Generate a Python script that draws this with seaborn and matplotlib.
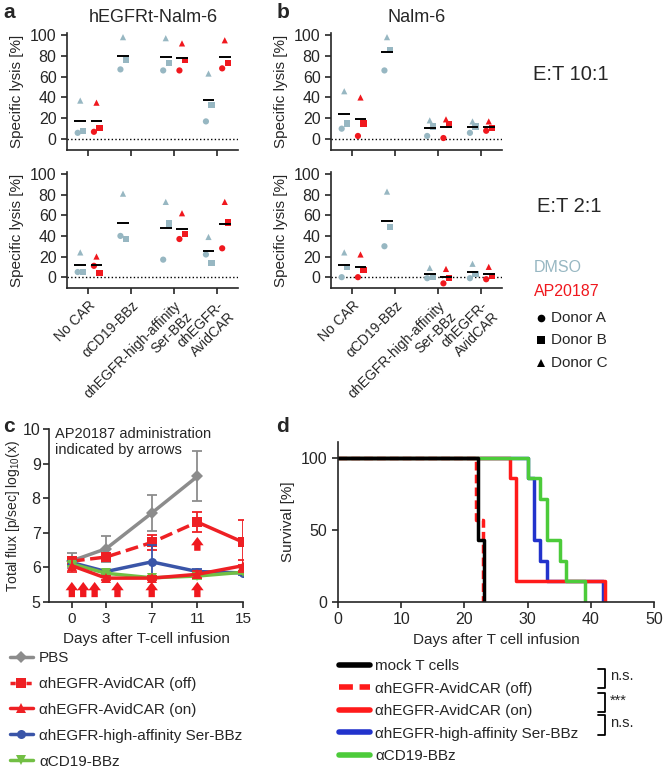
import numpy as np
import pandas as pd
import matplotlib
matplotlib.use("Agg")
import matplotlib.pyplot as plt
import seaborn as sns
from matplotlib.lines import Line2D

sns.set_style("ticks")
plt.rcParams["font.family"] = ["Liberation Sans", "DejaVu Sans"]
plt.rcParams["axes.linewidth"] = 1.2
plt.rcParams["xtick.major.width"] = 1.2
plt.rcParams["ytick.major.width"] = 1.2
plt.rcParams["xtick.major.size"] = 4
plt.rcParams["ytick.major.size"] = 4

nan = np.nan

# --- panels a/b: specific lysis, per category [Donor A, Donor B, Donor C]
cats = ["No CAR", "αCD19-BBz", "αhEGFR-high-affinity\nSer-BBz", "αhEGFR-\nAvidCAR"]
donors = ["Donor A", "Donor B", "Donor C"]
a10_dmso = [[6, 8, 37], [67, 76, 98], [66, 73, 97], [17, 33, 63]]
a10_ap = [[7, 11, 35], [nan, nan, nan], [66, 76, 92], [68, 73, 95]]
a2_dmso = [[5, 5, 24], [40, 37, 81], [17, 52, 73], [22, 14, 39]]
a2_ap = [[11, 4, 20], [nan, nan, nan], [37, 42, 62], [28, 53, 73]]
b10_dmso = [[10, 15, 46], [66, 86, 98], [3, 12, 18], [6, 12, 17]]
b10_ap = [[3, 15, 40], [nan, nan, nan], [1, 14, 19], [8, 11, 17]]
b2_dmso = [[0, 10, 24], [30, 49, 83], [-1, 0, 9], [-1, 3, 13]]
b2_ap = [[0, 7, 22], [nan, nan, nan], [-6, -1, 8], [-2, 1, 10]]

# --- panel c: bioluminescence (log10 total flux)
days = [0, 3, 7, 11, 15]
pbs = [6.19, 6.54, 7.57, 8.63]
pbs_err = [0.22, 0.37, 0.52, 0.72]
avid_off = [6.18, 6.30, 6.72, 7.31, 6.73]
avid_off_err = [0.12, 0.10, 0.22, 0.29, 0.65]
avid_on = [6.05, 5.69, 5.69, 5.80, 6.05]
avid_on_err = [0.18, 0.05, 0.05, 0.10, 0.17]
hiaff = [6.14, 5.88, 6.16, 5.88, 5.84]
hiaff_err = [0.06, 0.05, 0.50, 0.06, 0.05]
cd19 = [6.10, 5.83, 5.70, 5.75, 5.86]
cd19_err = [0.06, 0.05, 0.04, 0.08, 0.04]
arrow_days = [0, 1, 2, 4, 7, 11]

# --- panel d: survival (Kaplan-Meier steps)
mock_t = [0, 22.2, 23.1]
mock_s = [100, 42.9, 0]
off_t = [0, 21.9, 22.9]
off_s = [100, 57.1, 0]
on_t = [0, 27.2, 28.2, 42.2]
on_s = [100, 85.7, 14.3, 0]
hi_t = [0, 30.1, 31.0, 32.0, 33.0, 42.0]
hi_s = [100, 85.7, 42.9, 28.6, 14.3, 0]
cd_t = [0, 30.1, 32.0, 33.1, 35.1, 36.1, 39.1]
cd_s = [100, 85.7, 71.4, 42.9, 28.6, 14.3, 0]

DMSO_C = "#97B7C2"
AP_C = "#F0181E"
W, H = 663, 775
fig = plt.figure(figsize=(W / 100, H / 100), dpi=100)


def add_ax(x0, y0, x1, y1):
    return fig.add_axes([x0 / W, 1 - y1 / H, (x1 - x0) / W, (y1 - y0) / H])


def lysis_panel(ax, dmso, ap, labels):
    rows = []
    for treat, vals, off in (("DMSO", dmso, -0.19), ("AP20187", ap, 0.19)):
        for ci, trip in enumerate(vals):
            for di, v in enumerate(trip):
                if np.isnan(v):
                    continue
                shift = [-0.06, 0.07, 0.0][di]
                rows.append(dict(x=ci + off + shift, y=v, treatment=treat, donor=donors[di]))
            if not np.all(np.isnan(trip)):
                m = np.nanmean(trip)
                ax.hlines(m, ci + off - 0.14, ci + off + 0.14, color="black", lw=1.4, zorder=3)
    df = pd.DataFrame(rows)
    ax.axhline(0, color="black", ls=":", lw=1)
    sns.scatterplot(data=df, x="x", y="y", hue="treatment", style="donor",
                    palette={"DMSO": DMSO_C, "AP20187": AP_C},
                    markers={"Donor A": "o", "Donor B": "s", "Donor C": "^"},
                    s=20, linewidth=0, legend=False, ax=ax, zorder=2)
    ax.set_xlim(-0.5, 3.5)
    ax.set_ylim(-10.5, 102)
    ax.set_yticks([0, 20, 40, 60, 80, 100])
    ax.set_xticks(range(4))
    if labels:
        ax.set_xticklabels(cats, rotation=45, ha="right", rotation_mode="anchor",
                           fontsize=10, multialignment="right")
    else:
        ax.set_xticklabels([])
    ax.tick_params(axis="y", labelsize=11.5)
    ax.set_xlabel("")
    ax.set_ylabel("Specific lysis [%]", fontsize=11)
    sns.despine(ax=ax)


ax_a1 = add_ax(67, 33, 238, 150)
ax_a2 = add_ax(67, 172, 238, 288)
ax_b1 = add_ax(331, 33, 502, 150)
ax_b2 = add_ax(331, 172, 502, 288)
lysis_panel(ax_a1, a10_dmso, a10_ap, False)
lysis_panel(ax_a2, a2_dmso, a2_ap, True)
lysis_panel(ax_b1, b10_dmso, b10_ap, False)
lysis_panel(ax_b2, b2_dmso, b2_ap, True)

# --- panel c
GRAY, RED, BLUE, GREEN = "#8C8C8C", "#EE2024", "#3A55A8", "#72BF44"
ax_c = add_ax(49, 429, 243, 602)
series = [
    (days[:4], pbs, pbs_err, GRAY, "D", "-"),
    (days, avid_off, avid_off_err, RED, "s", None),
    (days, hiaff, hiaff_err, BLUE, "o", "-"),
    (days, cd19, cd19_err, GREEN, "v", "-"),
    (days, avid_on, avid_on_err, RED, "^", "-"),
]
for x, y, e, col, mk, ls in series:
    ax_c.errorbar(x, y, yerr=e, fmt="none", ecolor=col, elinewidth=1.3, capsize=3.5, capthick=1.3)
    if ls is None:
        sns.lineplot(x=x[:4], y=y[:4], color=col, lw=2.5, ls="--", ax=ax_c)
        sns.lineplot(x=x[3:], y=y[3:], color=col, lw=2.5, ax=ax_c)
        sns.lineplot(x=x, y=y, color=col, lw=0, marker=mk, markersize=6.5, markeredgewidth=0, ax=ax_c)
    else:
        sns.lineplot(x=x, y=y, color=col, lw=2.5, marker=mk, markersize=6.5,
                     markeredgewidth=0, ax=ax_c)
arrow_kw = dict(arrowstyle="simple,head_length=0.5,head_width=0.75,tail_width=0.38",
                color="#F0181E", lw=0, shrinkA=0, shrinkB=0, mutation_scale=12)
for d in arrow_days:
    ax_c.annotate("", xy=(d, 5.58), xytext=(d, 5.14), arrowprops=arrow_kw)
ax_c.annotate("", xy=(11, 6.88), xytext=(11, 6.48), arrowprops=arrow_kw)
ax_c.text(-1.5, 10.05, "AP20187 administration\nindicated by arrows", fontsize=10.5,
          va="top", ha="left")
ax_c.set_xlim(-2, 15)
ax_c.set_ylim(5, 10)
ax_c.set_xticks(days)
ax_c.set_yticks([5, 6, 7, 8, 9, 10])
ax_c.tick_params(labelsize=11)
ax_c.tick_params(axis="y", labelsize=11.5, pad=2)
ax_c.set_xlabel("Days after T-cell infusion", fontsize=11)
ax_c.set_ylabel(r"Total flux [p/sec] log$_{\mathregular{10}}$(x)", fontsize=10, labelpad=1)
sns.despine(ax=ax_c)

# --- panel d
ax_d = add_ax(338, 442, 654, 602)
D_RED, D_BLUE, D_GREEN = "#FF1A1A", "#2233CC", "#4CCB3A"
sns.lineplot(x=off_t, y=off_s, color=D_RED, lw=2.5, ls=(0, (2.5, 1.2)),
             drawstyle="steps-post", estimator=None, ax=ax_d)
sns.lineplot(x=hi_t, y=hi_s, color=D_BLUE, lw=2.5, drawstyle="steps-post", estimator=None, ax=ax_d)
sns.lineplot(x=on_t, y=on_s, color=D_RED, lw=2.5, drawstyle="steps-post", estimator=None, ax=ax_d)
sns.lineplot(x=cd_t, y=cd_s, color=D_GREEN, lw=2.5, drawstyle="steps-post", estimator=None, ax=ax_d)
sns.lineplot(x=mock_t, y=mock_s, color="black", lw=2.5, drawstyle="steps-post", estimator=None, ax=ax_d)
ax_d.set_xlim(0, 50)
ax_d.set_ylim(0, 111)
ax_d.set_xticks([0, 10, 20, 30, 40, 50])
ax_d.set_yticks([0, 50, 100])
ax_d.tick_params(labelsize=11.5)
ax_d.set_xlabel("Days after T cell infusion", fontsize=11)
ax_d.set_ylabel("Survival [%]", fontsize=11)
sns.despine(ax=ax_d)

# --- overlay for figure-level text
ov = fig.add_axes([0, 0, 1, 1])
ov.set_xlim(0, W)
ov.set_ylim(H, 0)
ov.axis("off")
ov.patch.set_alpha(0)
for lab, x, y in (("a", 3, 12), ("b", 277, 12), ("c", 3, 426), ("d", 276, 426)):
    ov.text(x, y, lab, fontsize=15, fontweight="bold", va="center", ha="left")
ov.text(153, 17, "hEGFRt-Nalm-6", fontsize=13, ha="center", va="center")
ov.text(417, 17, "Nalm-6", fontsize=13, ha="center", va="center")
ov.text(533, 75, "E:T 10:1", fontsize=14.5, ha="left", va="center")
ov.text(537, 207, "E:T 2:1", fontsize=14.5, ha="left", va="center")
ov.text(534, 268, "DMSO", fontsize=11.5, color=DMSO_C, ha="left", va="center")
ov.text(534, 292, "AP20187", fontsize=11.5, color=AP_C, ha="left", va="center")
for mk, y, lab in (("o", 318, "Donor A"), ("s", 340, "Donor B"), ("^", 363, "Donor C")):
    ov.plot([541], [y], marker=mk, color="black", ms=5.5, mew=0)
    ov.text(551, y, lab, fontsize=11, ha="left", va="center")

c_handles = [
    Line2D([], [], color=GRAY, marker="D", ms=6, mew=0, lw=2.5),
    Line2D([], [], color=RED, marker="s", ms=6.5, mew=0, lw=2.5, ls=(0, (1.5, 0.8))),
    Line2D([], [], color=RED, marker="^", ms=6.5, mew=0, lw=2.5),
    Line2D([], [], color=BLUE, marker="o", ms=6.5, mew=0, lw=2.5),
    Line2D([], [], color=GREEN, marker="v", ms=6.5, mew=0, lw=2.5),
]
c_labels = ["PBS", "αhEGFR-AvidCAR (off)", "αhEGFR-AvidCAR (on)",
            "αhEGFR-high-affinity Ser-BBz", "αCD19-BBz"]
fig.legend(c_handles, c_labels, loc="upper left", bbox_to_anchor=(10 / W, 1 - 651 / H),
           frameon=False, fontsize=11, handlelength=1.5, handletextpad=0.4,
           labelspacing=0.78, borderpad=0, borderaxespad=0)

d_handles = [
    Line2D([], [], color="black", lw=4),
    Line2D([], [], color=D_RED, lw=4, ls=(0, (2.5, 1.2))),
    Line2D([], [], color=D_RED, lw=4),
    Line2D([], [], color=D_BLUE, lw=4),
    Line2D([], [], color=D_GREEN, lw=4),
]
d_labels = ["mock T cells", "αhEGFR-AvidCAR (off)", "αhEGFR-AvidCAR (on)",
            "αhEGFR-high-affinity Ser-BBz", "αCD19-BBz"]
fig.legend(d_handles, d_labels, loc="upper left", bbox_to_anchor=(339 / W, 1 - 659 / H),
           frameon=False, fontsize=11, handlelength=2.0, handletextpad=0.35,
           labelspacing=0.56, borderpad=0, borderaxespad=0)

for y0, y1, lab in ((669, 688, "n.s."), (693, 712, "***"), (715, 735, "n.s.")):
    ov.plot([598, 605, 605, 598], [y0, y0, y1, y1], color="black", lw=1.3)
    ov.text(610, (y0 + y1) / 2 - 2, lab, fontsize=10.5, ha="left", va="center")

fig.savefig("out.png", dpi=100)
